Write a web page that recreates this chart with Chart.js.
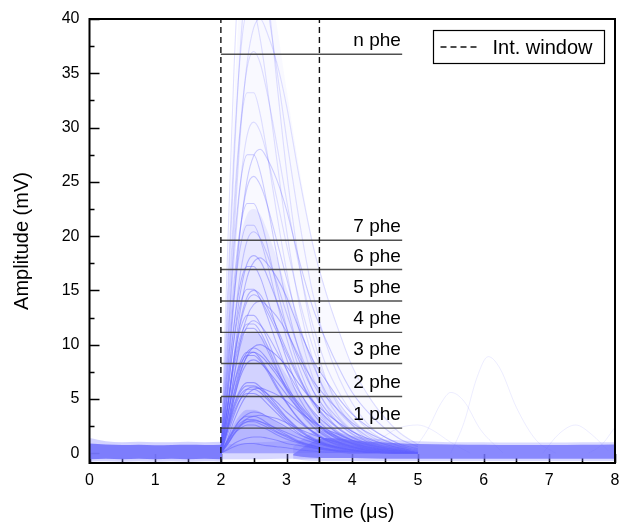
<!DOCTYPE html>
<html>
<head>
<meta charset="utf-8">
<script src="https://cdn.jsdelivr.net/npm/chart.js@4.4.0/dist/chart.umd.min.js"></script>
<style>
html,body{margin:0;padding:0;background:#fff;}
#wrap{width:621px;height:524px;}
</style>
</head>
<body>
<div id="wrap"><canvas id="c" width="621" height="524"></canvas></div>
<script>
// ---- data ----
const pulseTimes = [2.0,2.1,2.2,2.3,2.4,2.5,2.6,2.7,2.85,3.0,3.2,3.4,3.6,3.8,4.0,4.3,4.7,5.0];
const pulseTraces = [
  [0,0.3,0.6,0.8,0.9,0.9,0.8,0.7,0.6,0.5,0.3,0.2,0.1,0.1,0,0,0,0],
  [0,0.4,0.9,1.2,1.4,1.5,1.5,1.4,1.2,0.9,0.7,0.5,0.3,0.2,0.2,0.1,0,0],
  [0,0.9,1.8,2.3,2.6,2.6,2.4,2.2,1.7,1.3,0.9,0.5,0.3,0.2,0.1,0.1,0,0],
  [0,1.0,2.0,2.6,2.9,2.9,2.7,2.4,1.9,1.5,1.0,0.6,0.4,0.2,0.1,0.1,0,0],
  [0,0.8,1.7,2.5,2.9,3.0,2.9,2.7,2.3,1.9,1.4,1.0,0.7,0.5,0.3,0.2,0.1,0],
  [0,1.1,2.1,2.8,3.1,3.1,2.9,2.6,2.0,1.6,1.0,0.7,0.4,0.2,0.2,0.1,0,0],
  [0,1.2,2.3,3.1,3.4,3.4,3.2,2.8,2.2,1.7,1.1,0.7,0.4,0.3,0.2,0.1,0,0],
  [0,0.8,1.8,2.6,3.2,3.4,3.5,3.4,3.2,2.8,2.2,1.7,1.3,1.0,0.7,0.4,0.2,0.1],
  [0,1.1,2.2,3.1,3.6,3.8,3.7,3.4,2.9,2.4,1.7,1.2,0.8,0.6,0.4,0.2,0.1,0],
  [0,2.0,3.8,5.0,5.5,5.5,5.2,4.6,3.7,2.8,1.8,1.2,0.7,0.4,0.3,0.1,0.1,0],
  [0,2.1,4.1,5.4,5.9,5.9,5.6,5.0,4.0,3.0,2.0,1.3,0.8,0.5,0.3,0.1,0.1,0],
  [0,1.3,3.0,4.4,5.4,5.9,6.0,5.8,5.4,4.8,3.8,2.9,2.2,1.7,1.2,0.7,0.3,0.1],
  [0,1.7,3.5,5.0,5.9,6.1,5.9,5.5,4.7,3.8,2.8,2.0,1.3,0.9,0.6,0.3,0.1,0],
  [0,2.2,4.3,5.7,6.2,6.2,5.9,5.2,4.2,3.2,2.1,1.3,0.8,0.5,0.3,0.1,0.1,0],
  [0,2.3,4.5,5.9,6.5,6.5,6.1,5.5,4.4,3.3,2.2,1.4,0.9,0.5,0.3,0.1,0.1,0],
  [0,2.4,5.0,7.1,8.3,8.6,8.3,7.7,6.6,5.4,4.0,2.8,1.9,1.3,0.9,0.4,0.2,0],
  [0,3.2,6.2,8.2,9.0,9.0,8.5,7.6,6.0,4.6,3.0,1.9,1.2,0.7,0.5,0.2,0.1,0],
  [0,2.6,5.4,7.6,8.9,9.3,9.0,8.4,7.2,5.9,4.3,3.0,2.0,1.4,0.9,0.5,0.2,0],
  [0,3.3,6.4,8.5,9.3,9.3,8.7,7.8,6.2,4.7,3.1,2.0,1.2,0.8,0.5,0.2,0.1,0],
  [0,2.7,5.6,8.0,9.3,9.7,9.4,8.7,7.5,6.1,4.5,3.1,2.1,1.5,1.0,0.5,0.2,0],
  [0,2.2,5.0,7.4,9.0,9.8,10.0,9.7,9.0,8.0,6.3,4.8,3.7,2.8,2.0,1.2,0.5,0.2],
  [0,4.1,7.9,10.4,11.5,11.5,10.8,9.6,7.7,5.8,3.8,2.4,1.5,0.9,0.6,0.2,0.1,0],
  [0,4.2,8.2,10.8,11.9,11.9,11.2,10.0,7.9,6.0,4.0,2.5,1.6,1.0,0.6,0.2,0.1,0],
  [0,3.4,7.1,10.0,11.7,12.2,11.8,11.0,9.4,7.7,5.6,3.9,2.7,1.8,1.2,0.6,0.2,0],
  [0,4.5,8.7,11.5,12.7,12.7,11.9,10.6,8.4,6.4,4.2,2.7,1.7,1.0,0.6,0.3,0.1,0],
  [0,3.1,7.0,10.4,12.6,13.7,14.0,13.6,12.6,11.2,8.8,6.7,5.2,3.9,2.8,1.7,0.7,0.3],
  [0,4.1,8.5,12.0,14.0,14.6,14.2,13.1,11.2,9.2,6.7,4.7,3.2,2.2,1.5,0.7,0.3,0],
  [0,4.2,8.7,12.3,14.4,15.0,14.6,13.5,11.6,9.5,6.9,4.8,3.3,2.3,1.5,0.8,0.3,0],
  [0,5.4,10.4,13.8,15.1,15.1,14.2,12.7,10.1,7.7,5.0,3.2,2.0,1.2,0.8,0.3,0.2,0],
  [0,6.1,11.8,15.7,17.2,17.2,16.2,14.4,11.5,8.7,5.7,3.7,2.3,1.4,0.9,0.3,0.2,0],
  [0,4.0,9.0,13.3,16.2,17.6,18.0,17.5,16.2,14.4,11.3,8.6,6.7,5.0,3.6,2.2,0.9,0.4],
  [0,5.1,10.6,14.9,17.5,18.2,17.7,16.4,14.0,11.5,8.4,5.8,4.0,2.7,1.8,0.9,0.4,0],
  [0,5.7,11.8,16.7,19.6,20.4,19.8,18.4,15.7,12.9,9.4,6.5,4.5,3.1,2.0,1.0,0.4,0],
  [0,7.4,14.4,19.1,21.0,21.0,19.7,17.6,14.0,10.6,7.0,4.5,2.8,1.7,1.1,0.4,0.2,0],
  [0,8.1,15.8,20.9,23.0,23.0,21.6,19.3,15.3,11.6,7.7,4.9,3.0,1.9,1.2,0.5,0.2,0],
  [0,7.1,14.8,20.9,24.5,25.5,24.7,23.0,19.6,16.1,11.7,8.2,5.6,3.8,2.6,1.3,0.5,0],
  [0,9.7,18.9,25.0,27.5,27.5,25.9,23.1,18.3,13.9,9.2,5.8,3.6,2.2,1.4,0.6,0.3,0],
  [0,6.2,14.0,20.7,25.2,27.4,28.0,27.2,25.2,22.4,17.6,13.4,10.4,7.8,5.6,3.4,1.4,0.6],
  [0,8.5,17.7,25.0,29.3,30.5,29.6,27.5,23.5,19.2,14.0,9.8,6.7,4.6,3.1,1.5,0.6,0],
  [0,11.7,22.8,30.2,33.2,33.2,31.2,27.8,22.1,16.8,11.1,7.0,4.4,2.7,1.7,0.7,0.3,0],
  [0,10.4,21.5,30.3,35.5,37.0,35.9,33.3,28.5,23.3,17.0,11.8,8.1,5.6,3.7,1.9,0.7,0],
  [0,8.8,20.0,29.6,36.0,39.2,40.0,38.8,36.0,32.0,25.2,19.2,14.8,11.2,8.0,4.8,2.0,0.8],
  [0,14.4,27.9,36.9,40.6,40.6,38.1,34.0,27.1,20.5,13.5,8.6,5.3,3.3,2.1,0.8,0.4,0],
  [0,12.9,26.7,37.7,44.2,46.0,44.6,41.4,35.4,29.0,21.2,14.7,10.1,6.9,4.6,2.3,0.9,0],
  [0,18.2,35.4,46.8,51.5,51.5,48.4,43.2,34.3,26.0,17.2,10.9,6.8,4.2,2.6,1.0,0.5,0]
];
// density envelopes of the trace cloud (filled down to 0 mV)
const envelopes = [
  [0,1.4,2.7,3.6,4.0,4.0,3.8,3.4,2.8,2.3,1.7,1.2,0.9,0.6,0.4,0.2,0.1,0],
  [0,3.9,7.6,10.1,11.1,11.2,10.9,10.1,8.7,7.2,5.4,3.9,2.8,2.0,1.4,0.7,0.3,0],
  [0,7.5,14.8,19.8,22.0,22.5,22.0,20.6,18.0,15.2,11.6,8.6,6.4,4.6,3.2,1.8,0.7,0.2],
  [0,16,32,43,47.5,48.5,47.5,45,39.5,33.5,26,19.5,15,11.3,8,4.8,2,0.8]
];
const envelopeAlphas = [0.3, 0.2, 0.12, 0.045];
// faint late pulses (time, amplitude)
const lateA_t = [4.1,4.4,4.7,5.0,5.2,5.5,5.8];
const lateA_v = [0,1.2,2.3,2.6,2.2,1.0,0];
const lateB_t = [4.9,5.15,5.35,5.5,5.7,5.95,6.3];
const lateB_v = [0,2.2,4.6,5.6,4.8,2.2,0];
const lateC_t = [5.5,5.7,5.9,6.07,6.25,6.5,6.8,7.1];
const lateC_v = [0,2.8,7.0,8.9,7.8,4.2,1.2,0];
const lateD_t = [6.9,7.15,7.4,7.65,7.9];
const lateD_v = [0,1.8,2.6,1.7,0.2];
const lateE_t = [7.6,7.8,8.0];
const lateE_v = [0,0.8,2.4];
// dense baseline band
const baseTimes = [0,0.25,0.5,0.75,1,1.25,1.5,1.75,2.02];
const baseUpper = [0.9,0.8,0.75,0.78,0.74,0.76,0.78,0.76,0.78];
const baseLower = [-0.55,-0.5,-0.55,-0.5,-0.55,-0.5,-0.55,-0.5,-0.55];
const baseUpperFaint = [1.4,1.1,1.0,1.05,1.0,1.0,1.05,1.0,1.05];
const baseLowerFaint = [-0.78,-0.75,-0.78,-0.75,-0.78,-0.75,-0.78,-0.75,-0.78];
const pulseBandTimes = [2.0,2.3,2.6,2.9,3.2,3.5];
const pulseBandUpper = [0.8,0.9,1.0,1.1,1.2,1.3];
const pulseBandLower = [-0.55,-0.55,-0.55,-0.5,-0.5,-0.5];
const tailTimes = [3.1,3.35,3.6,3.8,4.0,4.3,4.7,5.0,5.5,6.0,6.5,7.0,7.5,8.0];
const tailUpper = [-0.1,0.9,1.4,1.35,1.2,1.05,0.92,0.85,0.8,0.77,0.75,0.75,0.77,0.8];
const tailLower = [-0.2,-0.4,-0.45,-0.45,-0.45,-0.48,-0.5,-0.5,-0.5,-0.5,-0.5,-0.5,-0.5,-0.5];
const tailUpperFaint = [0.6,1.8,2.1,1.9,1.6,1.35,1.2,1.1,1.02,1.0,0.98,0.98,1.0,1.02];
const tailLowerFaint = [-0.5,-0.7,-0.72,-0.72,-0.72,-0.72,-0.72,-0.72,-0.72,-0.72,-0.72,-0.72,-0.72,-0.72];
// integration window and thresholds
const windowEdges = [2.0, 3.5];
const thresholdStart = 2.0;
const thresholdEnd = 4.76;
const thresholdLevels = [2.31,5.23,8.27,11.13,14.02,16.92,19.62,36.75];
const thresholdLabels = ['1 phe','2 phe','3 phe','4 phe','5 phe','6 phe','7 phe','n phe'];
const xTickValues = [0,1,2,3,4,5,6,7,8];
const yTickValues = [0,5,10,15,20,25,30,35,40];
const xMin = 0, xMax = 8, yMin = -0.9, yMax = 40;
const legendLabel = 'Int. window';

// ---- build datasets ----
const zip = (t, v) => t.map((x, i) => ({x: x, y: v[i]}));
const traceAlpha = tr => { const m = Math.max(...tr); return m > 30 ? 0.2 : m > 20 ? 0.3 : m > 10 ? 0.42 : 0.55; };
const datasets = [];
windowEdges.forEach(e => datasets.push({
  data: [{x:e,y:yMin},{x:e,y:yMax}], borderColor:'#111', borderWidth:1.4,
  borderDash:[6,4], pointRadius:0, fill:false
}));
thresholdLevels.forEach(l => datasets.push({
  data: [{x:thresholdStart,y:l},{x:thresholdEnd,y:l}], borderColor:'rgba(70,70,70,0.95)', borderWidth:1.4,
  pointRadius:0, fill:false
}));
pulseTraces.forEach(tr => datasets.push({
  data: zip(pulseTimes, tr), borderColor:'rgba(100,100,255,' + traceAlpha(tr) + ')', borderWidth:1.1,
  pointRadius:0, fill:false, cubicInterpolationMode:'monotone'
}));
[[lateA_t,lateA_v],[lateB_t,lateB_v],[lateC_t,lateC_v],[lateD_t,lateD_v],[lateE_t,lateE_v]].forEach(p => datasets.push({
  data: zip(p[0], p[1]), borderColor:'rgba(110,110,255,0.12)', borderWidth:1,
  pointRadius:0, fill:false, cubicInterpolationMode:'monotone'
}));
envelopes.forEach((env, i) => datasets.push({
  data: zip(pulseTimes, env), borderWidth:0, pointRadius:0,
  fill: {value: 0}, backgroundColor: 'rgba(118,118,255,' + envelopeAlphas[i] + ')',
  cubicInterpolationMode:'monotone'
}));
function band(t, up, lo, color) {
  datasets.push({data: zip(t, up), borderWidth:0, pointRadius:0, fill:'+1', backgroundColor:color, cubicInterpolationMode:'monotone'});
  datasets.push({data: zip(t, lo), borderWidth:0, pointRadius:0, fill:false, cubicInterpolationMode:'monotone'});
}
band(baseTimes, baseUpper, baseLower, 'rgba(118,118,252,0.92)');
band(tailTimes, tailUpper, tailLower, 'rgba(118,118,252,0.8)');
band(pulseBandTimes, pulseBandUpper, pulseBandLower, 'rgba(125,125,255,0.3)');
band(baseTimes, baseUpperFaint, baseLowerFaint, 'rgba(130,130,255,0.35)');
band(tailTimes, tailUpperFaint, tailLowerFaint, 'rgba(130,130,255,0.3)');

const FONT = '"Liberation Sans", Arial, sans-serif';

const deco = {
  id: 'deco',
  beforeDatasetsDraw(chart) {
    const {ctx, chartArea: a, scales: {x, y}} = chart;
    ctx.save();
    ctx.strokeStyle = '#000';
    ctx.lineWidth = 1.6;
    ctx.beginPath();
    for (let v = xMin; v <= xMax + 1e-9; v += 0.5) {
      const px = Math.round(x.getPixelForValue(v)) + 0.5;
      const len = (Math.abs(v - Math.round(v)) < 1e-9) ? 9 : 5;
      ctx.moveTo(px, a.bottom); ctx.lineTo(px, a.bottom - len);
    }
    for (let v = 0; v <= yMax + 1e-9; v += 2.5) {
      const py = Math.round(y.getPixelForValue(v)) + 0.5;
      const len = (Math.abs(v / 5 - Math.round(v / 5)) < 1e-9) ? 10 : 5;
      ctx.moveTo(a.left, py); ctx.lineTo(a.left + len, py);
    }
    ctx.stroke();
    ctx.restore();
  },
  afterDatasetsDraw(chart) {
    const {ctx, chartArea: a, scales: {x, y}} = chart;
    ctx.save();
    ctx.strokeStyle = '#000';
    ctx.lineWidth = 2;
    ctx.strokeRect(a.left, a.top, a.right - a.left, a.bottom - a.top);
    ctx.fillStyle = '#000';
    ctx.font = '19px ' + FONT;
    ctx.textAlign = 'right';
    ctx.textBaseline = 'alphabetic';
    thresholdLevels.forEach((l, i) => {
      ctx.fillText(thresholdLabels[i], x.getPixelForValue(4.74), y.getPixelForValue(l) - 8);
    });
    const bx = 433.5, by = 30.5, bw = 171, bh = 33;
    ctx.fillStyle = '#fff';
    ctx.fillRect(bx, by, bw, bh);
    ctx.lineWidth = 1.2;
    ctx.strokeStyle = '#000';
    ctx.strokeRect(bx, by, bw, bh);
    ctx.setLineDash([6,4]);
    ctx.lineWidth = 1.4;
    ctx.strokeStyle = '#111';
    ctx.beginPath();
    ctx.moveTo(bx + 7, by + 16.5); ctx.lineTo(bx + 46, by + 16.5);
    ctx.stroke();
    ctx.setLineDash([]);
    ctx.fillStyle = '#000';
    ctx.font = '20px ' + FONT;
    ctx.textAlign = 'left';
    ctx.fillText(legendLabel, bx + 59, by + 23);
    ctx.restore();
  }
};

new Chart(document.getElementById('c'), {
  type: 'line',
  data: { datasets: datasets },
  options: {
    responsive: false,
    animation: false,
    events: [],
    layout: { padding: { top: 19, right: 6, left: 0, bottom: 0 } },
    plugins: { legend: { display: false }, tooltip: { enabled: false } },
    scales: {
      x: {
        type: 'linear', min: xMin, max: xMax,
        afterFit: s => { s.height = 61; s.paddingRight = 0; s.paddingLeft = 0; },
        afterBuildTicks: s => { s.ticks = xTickValues.map(v => ({value: v})); },
        grid: { display: false, drawTicks: false },
        border: { display: false },
        ticks: { color: '#000', font: { size: 16, family: FONT }, padding: 8, maxRotation: 0 },
        title: { display: true, text: 'Time (\u03bcs)', color: '#000', font: { size: 20, family: FONT }, padding: { top: 0, bottom: 0 } }
      },
      y: {
        type: 'linear', min: yMin, max: yMax,
        afterFit: s => { s.width = 89.5; s.paddingTop = 0; s.paddingBottom = 0; },
        afterBuildTicks: s => { s.ticks = yTickValues.map(v => ({value: v})); },
        grid: { display: false, drawTicks: false },
        border: { display: false },
        ticks: { color: '#000', font: { size: 16, family: FONT }, padding: 10 },
        title: { display: true, text: 'Amplitude (mV)', color: '#000', font: { size: 20, family: FONT }, padding: { top: 10, bottom: 0 } }
      }
    }
  },
  plugins: [deco]
});
</script>
</body>
</html>
